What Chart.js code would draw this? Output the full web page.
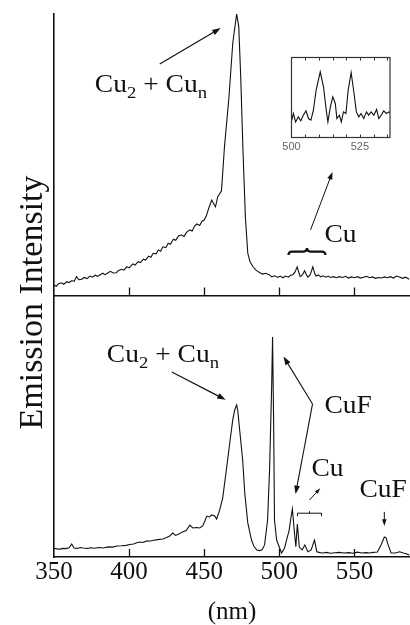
<!DOCTYPE html>
<html>
<head>
<meta charset="utf-8">
<script src="https://cdn.jsdelivr.net/npm/chart.js@4/dist/chart.umd.min.js"></script>
<style>
  html, body { margin: 0; padding: 0; background: #fff; }
  #wrap { position: relative; width: 410px; height: 625px; overflow: hidden; }
  #wrap canvas { position: absolute; left: 0; top: 0; }
</style>
</head>
<body>
<div id="wrap">
  <canvas id="bottom" width="410" height="625"></canvas>
  <canvas id="top" width="410" height="625"></canvas>
  <canvas id="inset" width="410" height="625"></canvas>
</div>
<script>
// upper trace: wavelength (nm) / emission intensity (arb.)
const topNm = [350, 351.5, 353, 355, 356.5, 358.5, 360, 362, 363.5, 365,
  366.5, 368.5, 370, 372, 374, 375.5, 377.5, 379, 380.5, 382.5,
  384, 386, 387.5, 389.5, 391.5, 393, 395, 396.5, 398.5, 400,
  402.5, 404, 406, 407.5, 409.5, 411, 413, 414.5, 416, 418,
  419.5, 421, 422.5, 424.5, 426, 427.5, 429.5, 431, 433, 435,
  436.5, 438.5, 440.5, 442, 443.5, 445, 447, 448.5, 450, 451.5,
  453, 455, 456.5, 457.5, 459, 461.5, 463.5, 466.5, 469, 471.6,
  473, 474.3, 475.8, 477.4, 479, 480.5, 482.5, 484.5, 487, 489,
  491, 493.5, 495, 497, 499, 500.5, 502.5, 504, 506, 507.5,
  509, 510.3, 511.9, 513.2, 513.9, 515.5, 516.8, 518, 519, 520.5,
  522.3, 523.6, 524.5, 526, 527.5, 529, 531, 532.5, 534, 536,
  538, 540, 542, 544, 546, 548, 550, 552, 554, 556,
  558, 560, 562, 564, 566, 568, 570, 572, 574, 576,
  578, 580, 582, 584, 586.5]
const topInt = [3.7, 3.3, 4.2, 4.5, 4.0, 4.9, 4.6, 5.3, 5.0, 6.7,
  5.6, 5.8, 6.4, 6.0, 6.9, 6.5, 7.2, 6.8, 7.3, 7.9,
  7.4, 8.1, 8.6, 8.0, 8.1, 8.9, 9.3, 9.0, 10.2, 9.8,
  11.2, 10.8, 12.0, 11.7, 12.9, 12.6, 14.0, 13.6, 15.0, 14.8,
  16.2, 15.7, 17.3, 17.0, 18.6, 18.2, 20.0, 19.6, 21.2, 21.5,
  21.0, 22.6, 23.3, 22.9, 24.6, 25.4, 24.9, 26.4, 26.8, 28.4,
  31.0, 33.9, 32.4, 31.5, 35.1, 37.2, 52.9, 70.6, 89.6, 100,
  95.5, 77.7, 51.7, 28.0, 15.0, 12.0, 10.2, 9.0, 8.1, 7.6,
  7.9, 7.3, 6.6, 7.0, 6.4, 6.9, 6.3, 6.9, 6.5, 7.2,
  7.4, 8.2, 10.2, 7.8, 6.7, 7.4, 8.8, 7.5, 6.5, 7.3,
  10.2, 7.8, 6.9, 7.3, 6.6, 7.0, 6.5, 6.9, 6.4, 6.7,
  6.3, 6.7, 6.4, 6.8, 6.2, 6.6, 6.3, 6.7, 6.2, 6.5,
  6.8, 6.3, 6.6, 6.1, 6.4, 6.2, 6.6, 6.3, 6.7, 6.2,
  6.9, 6.6, 6.1, 6.5, 5.8]

// lower trace
const bottomNm = [350, 352, 354, 356, 358, 360, 361.8, 363.3, 365.5, 367.5,
  369.5, 372, 374.5, 377, 380, 383, 386, 389, 392, 395,
  398, 400.5, 403, 405, 407, 409, 411.5, 414, 416.5, 419,
  422.5, 425, 427, 429, 431, 433, 435.5, 438, 440.4, 442.4,
  445, 447, 449, 450.5, 451.7, 453.5, 455, 457, 458.3, 460.3,
  462.3, 465, 467, 469, 470.3, 471.6, 472.3, 473.6, 475.6, 477,
  479, 481.5, 483, 485, 487, 488.5, 490.2, 492.2, 493.5, 494.9,
  495.5, 496.2, 496.8, 498.2, 500.2, 501.5, 503.5, 504.8, 506.5, 507.5,
  508.7, 510.1, 511, 512, 513.3, 515.2, 517, 519, 521.2, 523.4,
  525, 527, 529, 531.5, 534, 537, 540, 543, 546.5, 549,
  552, 555, 558, 560, 562.5, 565.3, 567.7, 569.9, 571.2, 572,
  574.4, 577.2, 580, 582.6, 584.5, 586.5]
const bottomInt = [4.0, 3.7, 3.6, 3.9, 3.8, 4.2, 5.9, 4.1, 3.9, 4.3,
  4.1, 3.9, 4.2, 4.0, 4.3, 4.1, 4.6, 4.5, 5.0, 5.1,
  5.3, 5.7, 5.9, 6.5, 6.8, 6.6, 7.2, 7.3, 7.6, 7.9,
  8.2, 8.9, 9.5, 10.9, 9.8, 10.4, 11.4, 12.0, 14.5, 13.2,
  13.4, 13.2, 14.1, 16.5, 18.6, 18.2, 19.1, 18.6, 17.3, 21.4,
  26.8, 40.9, 51.8, 62.3, 66.8, 69.1, 66.8, 57.7, 44.1, 29.1,
  15.5, 7.7, 5.0, 3.2, 2.9, 3.3, 5.5, 16.8, 39.5, 77.3,
  100, 62.3, 16.8, 7.7, 4.1, 1.8, 4.1, 7.7, 12.0, 16.8,
  21.8, 10.9, 4.7, 15.0, 4.5, 3.2, 5.5, 2.4, 3.2, 7.7,
  2.4, 2.0, 1.8, 2.1, 1.7, 1.9, 2.1, 1.8, 2.0, 1.7,
  2.2, 1.8, 2.0, 1.8, 2.1, 2.3, 5.5, 9.1, 8.6, 6.4,
  1.8, 1.8, 2.4, 1.8, 1.5, 0.9]

// inset: Cu lines of the upper trace, 500-536 nm
const insetNm = [500.1, 500.7, 501.5, 502.5, 503.4, 504.3, 505.3, 506.2, 507.1, 508,
  509, 510.5, 511.7, 512.7, 513.3, 514.2, 515.1, 516, 516.6, 517.5,
  518.2, 519, 519.9, 520.7, 521.8, 522.7, 523.7, 524.6, 525.4, 526.4,
  527.4, 528.2, 529.1, 530.1, 531.1, 531.9, 532.8, 533.7, 534.7, 535.6, 536]
const insetInt = [21.6, 30, 19.5, 25.8, 20.8, 27.9, 33.3, 23.7, 21.6, 34.1,
  59.1, 82, 63.3, 34.1, 19.5, 38.3, 50.8, 42.5, 23.7, 27.9,
  19.5, 32, 30, 59.1, 81.2, 59.1, 32, 25.8, 30, 23.7,
  32, 27.9, 32, 27.9, 35, 23.7, 27.9, 33.3, 30, 32, 30.8]

const xTickValues = [350, 400, 450, 500, 550]
const insetTickLabels = [500, 525]
const insetMinorTicks = [505, 510, 515, 520, 525, 530, 535]

const SERIF = '"Liberation Serif", "Times New Roman", serif'
const SANS = '"Liberation Sans", Arial, sans-serif'
const INK = '#111'

const lineDataset = (xs, ys) => ({
  data: xs.map((x, i) => ({ x, y: ys[i] })),
  borderColor: INK,
  borderWidth: 1.1,
  pointRadius: 0,
  tension: 0,
  fill: false
})

function arrow(ctx, x1, y1, x2, y2, head = 9) {
  const a = Math.atan2(y2 - y1, x2 - x1)
  ctx.beginPath()
  ctx.moveTo(x1, y1)
  ctx.lineTo(x2 - Math.cos(a) * head * 0.6, y2 - Math.sin(a) * head * 0.6)
  ctx.stroke()
  ctx.beginPath()
  ctx.moveTo(x2, y2)
  ctx.lineTo(x2 - head * Math.cos(a - 0.33), y2 - head * Math.sin(a - 0.33))
  ctx.lineTo(x2 - head * Math.cos(a + 0.33), y2 - head * Math.sin(a + 0.33))
  ctx.closePath()
  ctx.fill()
}

// text with subscripts, a bit wide like the scanned figure
function label(ctx, parts, x, y, size) {
  ctx.save()
  ctx.translate(x, y)
  ctx.scale(1.1, 1)
  ctx.textBaseline = 'alphabetic'
  ctx.textAlign = 'left'
  let cx = 0
  for (const p of parts) {
    const sub = typeof p !== 'string'
    const t = sub ? p.sub : p
    ctx.font = `${sub ? Math.round(size * 0.66) : size}px ${SERIF}`
    ctx.fillText(t, cx, sub ? size * 0.27 : 0)
    cx += ctx.measureText(t).width
  }
  ctx.restore()
}

function innerTicks(chart, values, len) {
  const { ctx, chartArea: a, scales: { x } } = chart
  ctx.save()
  ctx.strokeStyle = INK
  ctx.lineWidth = 1.3
  for (const v of values) {
    const px = Math.round(x.getPixelForValue(v)) + 0.5
    ctx.beginPath()
    ctx.moveTo(px, a.bottom)
    ctx.lineTo(px, a.bottom - len)
    ctx.stroke()
  }
  ctx.restore()
}

const topNotes = {
  id: 'topNotes',
  afterDraw(chart) {
    const { ctx, scales: { x, y } } = chart
    const px = v => x.getPixelForValue(v), py = v => y.getPixelForValue(v)
    innerTicks(chart, xTickValues.slice(1), 8)
    ctx.save()
    ctx.fillStyle = INK
    ctx.strokeStyle = INK
    ctx.lineWidth = 1.2
    label(ctx, ['Cu', { sub: '2' }, ' + Cu', { sub: 'n' }], px(377.2), py(72.4), 25)
    arrow(ctx, px(420.4), py(82.2), px(461), py(95))
    // arrow up to the inset
    ctx.lineWidth = 1
    arrow(ctx, px(520.8), py(23.3), px(535.4), py(43.9), 8)
    label(ctx, ['Cu'], px(530.1), py(19.1), 25)
    // curly brace over the Cu lines
    const x1 = px(506.1), x2 = px(530.7), by = py(15.6), m = (x1 + x2) / 2, h = 3.5
    ctx.lineWidth = 2.2
    ctx.beginPath()
    ctx.moveTo(x1, by + h)
    ctx.quadraticCurveTo(x1, by, x1 + h, by)
    ctx.lineTo(m - h, by)
    ctx.quadraticCurveTo(m, by, m, by - h)
    ctx.quadraticCurveTo(m, by, m + h, by)
    ctx.lineTo(x2 - h, by)
    ctx.quadraticCurveTo(x2, by, x2, by + h)
    ctx.stroke()
    ctx.restore()
  }
}

const bottomNotes = {
  id: 'bottomNotes',
  afterDraw(chart) {
    const { ctx, chartArea, scales: { x, y } } = chart
    const px = v => x.getPixelForValue(v), py = v => y.getPixelForValue(v)
    innerTicks(chart, xTickValues.slice(1), 8)
    ctx.save()
    ctx.fillStyle = INK
    ctx.strokeStyle = INK
    ctx.lineWidth = 1.2
    label(ctx, ['Cu', { sub: '2' }, ' + Cu', { sub: 'n' }], px(385.2), py(88.8), 25)
    arrow(ctx, px(428.4), py(84.1), px(464.3), py(71.4))
    label(ctx, ['CuF'], px(530.1), py(65.6), 25)
    ctx.lineWidth = 1.1
    arrow(ctx, px(522.1), py(69.5), px(502.8), py(91.1))
    arrow(ctx, px(522.1), py(69.5), px(510.8), py(28.6))
    label(ctx, ['Cu'], px(521.4), py(36.8), 25)
    ctx.lineWidth = 1
    arrow(ctx, px(520.1), py(25.9), px(527.2), py(31.2), 6)
    // flat bracket over the Cu lines
    const b1 = px(512.1), b2 = px(528.1), bm = (b1 + b2) / 2, by = py(19.9)
    ctx.beginPath()
    ctx.moveTo(b1, by + 3)
    ctx.lineTo(b1, by)
    ctx.lineTo(b2, by)
    ctx.lineTo(b2, by + 3)
    ctx.moveTo(bm, by)
    ctx.lineTo(bm, by - 2)
    ctx.stroke()
    label(ctx, ['CuF'], px(553.3), py(27.3), 25)
    arrow(ctx, px(569.9), py(20.5), px(569.9), py(14.1), 7)
    // shared y title for both panels
    ctx.translate(chartArea.left - 12.5, 302.5)
    ctx.rotate(-Math.PI / 2)
    ctx.textAlign = 'center'
    ctx.textBaseline = 'alphabetic'
    ctx.font = `34px ${SERIF}`
    ctx.fillText('Emission Intensity', 0, 0)
    ctx.restore()
  }
}

const insetFrame = {
  id: 'insetFrame',
  afterDraw(chart) {
    const { ctx, chartArea: a, scales: { x } } = chart
    ctx.save()
    ctx.strokeStyle = '#333'
    ctx.lineWidth = 1.2
    ctx.strokeRect(a.left, a.top, a.right - a.left, a.bottom - a.top)
    ctx.lineWidth = 1
    for (const v of insetMinorTicks) {
      const p = Math.round(x.getPixelForValue(v)) + 0.5
      ctx.beginPath()
      ctx.moveTo(p, a.top)
      ctx.lineTo(p, a.top + 3)
      ctx.moveTo(p, a.bottom)
      ctx.lineTo(p, a.bottom - 3)
      ctx.stroke()
    }
    ctx.restore()
  }
}

const hidden = { display: false, drawTicks: false }
const quiet = { legend: { display: false }, tooltip: { enabled: false } }

// upper panel
new Chart(document.getElementById('top'), {
  type: 'line',
  data: { datasets: [lineDataset(topNm, topInt)] },
  options: {
    responsive: false,
    animation: false,
    layout: { padding: { top: 14, left: 0, right: 0, bottom: 0 } },
    plugins: quiet,
    scales: {
      x: {
        type: 'linear', min: 350, max: 587,
        afterBuildTicks: s => { s.ticks = xTickValues.map(value => ({ value })) },
        afterFit: s => { s.height = 625 - 295.5 },
        grid: hidden,
        ticks: { display: false },
        border: { color: INK, width: 1.5 }
      },
      y: {
        min: 0, max: 100,
        afterFit: s => { s.width = 54 },
        grid: hidden,
        ticks: { display: false },
        border: { color: INK, width: 1.6 }
      }
    }
  },
  plugins: [topNotes]
})

// lower panel
new Chart(document.getElementById('bottom'), {
  type: 'line',
  data: { datasets: [lineDataset(bottomNm, bottomInt)] },
  options: {
    responsive: false,
    animation: false,
    layout: { padding: { top: 296, left: 0, right: 0, bottom: 0 } },
    plugins: quiet,
    scales: {
      x: {
        type: 'linear', min: 350, max: 587,
        afterBuildTicks: s => { s.ticks = xTickValues.map(value => ({ value })) },
        afterFit: s => { s.height = 68 },
        grid: hidden,
        ticks: { color: INK, font: { family: SERIF, size: 25 }, padding: 0, maxRotation: 0, autoSkip: false },
        border: { color: INK, width: 1.5 },
        title: { display: true, text: '(nm)', color: INK, font: { family: SERIF, size: 25, lineHeight: 1 }, padding: 0 }
      },
      y: {
        min: 0, max: 118.6,
        afterFit: s => { s.width = 54 },
        grid: hidden,
        ticks: { display: false },
        border: { color: INK, width: 1.6 }
      }
    }
  },
  plugins: [bottomNotes]
})

// inset
new Chart(document.getElementById('inset'), {
  type: 'line',
  data: { datasets: [lineDataset(insetNm, insetInt)] },
  options: {
    responsive: false,
    animation: false,
    layout: { padding: { top: 57.5, left: 0, right: 20, bottom: 0 } },
    plugins: quiet,
    scales: {
      x: {
        type: 'linear', min: 500, max: 536,
        afterBuildTicks: s => { s.ticks = insetTickLabels.map(value => ({ value })) },
        afterFit: s => { s.height = 625 - 137.5 },
        grid: hidden,
        ticks: { color: '#666', font: { family: SANS, size: 11 }, padding: 3, maxRotation: 0, autoSkip: false },
        border: { display: false }
      },
      y: {
        min: 0, max: 100,
        afterFit: s => { s.width = 291.5 },
        grid: hidden,
        ticks: { display: false },
        border: { display: false }
      }
    }
  },
  plugins: [insetFrame]
})
</script>
</body>
</html>
